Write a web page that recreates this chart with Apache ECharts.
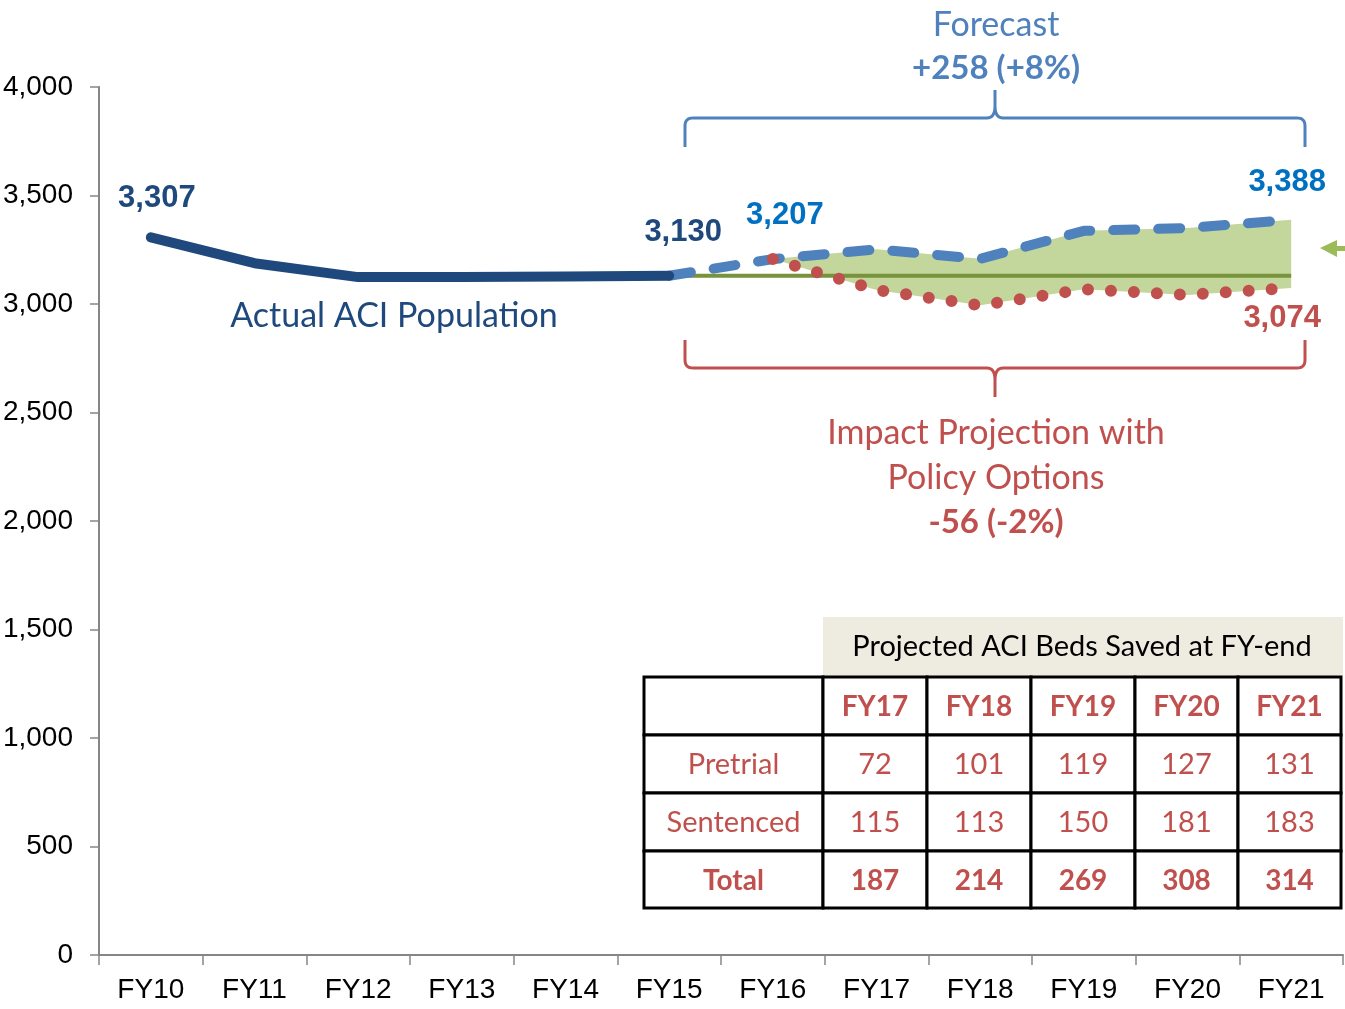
<!DOCTYPE html>
<html>
<head>
<meta charset="utf-8">
<title>ACI Population Forecast</title>
<script src="https://cdn.jsdelivr.net/npm/echarts@6/dist/echarts.min.js"></script>
<style>
  html, body { margin: 0; padding: 0; background: #fff; }
  #chart { width: 1345px; height: 1009px; }
</style>
</head>
<body>
<div id="chart"></div>
<script>
// fiscal years on the x axis
var years = ['FY10', 'FY11', 'FY12', 'FY13', 'FY14', 'FY15', 'FY16', 'FY17', 'FY18', 'FY19', 'FY20', 'FY21']
// FY10 - FY15
var actual = [3307, 3188, 3124, 3125, 3127, 3130]
// FY15 - FY21
var forecast = [3130, 3207, 3252, 3208, 3337, 3350, 3388]
// FY16 - FY21
var policy = [3207, 3065, 2994, 3068, 3042, 3074]
var baseline = 3130

// table: beds saved
var tableYears = ['FY17', 'FY18', 'FY19', 'FY20', 'FY21']
var tableRows = ['Pretrial', 'Sentenced', 'Total']
var pretrial = [72, 101, 119, 127, 131]
var sentenced = [115, 113, 150, 181, 183]
var total = [187, 214, 269, 308, 314]

var fmt = function (v) { return Number(v).toLocaleString('en-US') }

function pad(start, arr) {
  return years.map(function (_, i) {
    var k = i - start
    return (k >= 0 && k < arr.length) ? arr[k] : '-'
  })
}

var numFont = { fontFamily: 'Liberation Sans', fontWeight: 'bold', fontSize: 31 }
var calibri = 'Lato'

function withLabel(data, idx, opts) {
  data[idx] = { value: data[idx], label: Object.assign({ show: true, formatter: function (p) { return fmt(p.value) } }, numFont, opts) }
}

var actualData = pad(0, actual)
withLabel(actualData, 0, { position: 'top', distance: 0, offset: [6, -23], color: '#1f497d' })
withLabel(actualData, 5, { position: 'top', distance: 0, offset: [14, -28], color: '#1f497d' })

var forecastData = pad(5, forecast)
withLabel(forecastData, 6, { position: 'top', distance: 0, offset: [12, -28], color: '#0070c0' })
withLabel(forecastData, 11, { position: 'top', distance: 0, offset: [-4, -22], color: '#0070c0' })

var policyData = pad(6, policy)
withLabel(policyData, 11, { position: 'bottom', distance: 0, offset: [-9, 15], color: '#c0504d' })

var bandBase = pad(6, policy)
var bandDiff = pad(6, policy.map(function (v, i) { return forecast[i + 1] - v }))
var baseData = pad(5, forecast.map(function () { return baseline }))

// curly brace drawn as a polyline
function brace(x0, x1, yEdge, yBar, yTip) {
  var pts = []
  var r = 8
  var dir = yTip > yBar ? 1 : -1
  var mid = (x0 + x1) / 2
  function quad(p0, p1, p2) {
    for (var t = 0; t <= 1.0001; t += 0.125) {
      var a = (1 - t) * (1 - t), b = 2 * (1 - t) * t, c = t * t
      pts.push([a * p0[0] + b * p1[0] + c * p2[0], a * p0[1] + b * p1[1] + c * p2[1]])
    }
  }
  pts.push([x0, yEdge])
  quad([x0, yBar - dir * r], [x0, yBar], [x0 + r, yBar])
  quad([mid - r, yBar], [mid, yBar], [mid, yBar + dir * 12])
  pts.push([mid, yTip])
  quad([mid, yBar + dir * 12], [mid, yBar], [mid + r, yBar])
  quad([x1 - r, yBar], [x1, yBar], [x1, yBar - dir * r])
  pts.push([x1, yEdge])
  return pts
}

// table graphics
var tX = [644, 823, 927, 1031, 1135, 1238, 1341]
var tY = [677, 735, 793, 851, 908]
var tableGfx = []
tableGfx.push({
  type: 'rect', shape: { x: 823, y: 617, width: 520, height: 59 },
  style: { fill: '#eeece1' }
})
tableGfx.push({
  type: 'text', x: 1082, y: 647,
  style: { text: 'Projected ACI Beds Saved at FY-end', fill: '#000', font: '29px ' + calibri, align: 'center', verticalAlign: 'middle' }
})
var rowsVals = [pretrial, sentenced, total]
for (var r = 0; r < 4; r++) {
  for (var c = 0; c < 6; c++) {
    tableGfx.push({
      type: 'rect',
      shape: { x: tX[c], y: tY[r], width: tX[c + 1] - tX[c], height: tY[r + 1] - tY[r] },
      style: { fill: '#fff', stroke: '#000', lineWidth: 3 }
    })
    var txt = ''
    var bold = false
    if (r === 0 && c > 0) { txt = tableYears[c - 1]; bold = true }
    else if (r > 0 && c === 0) { txt = tableRows[r - 1]; bold = r === 3 }
    else if (r > 0) { txt = String(rowsVals[r - 1][c - 1]); bold = r === 3 }
    if (txt) {
      tableGfx.push({
        type: 'text', z: 110,
        x: (tX[c] + tX[c + 1]) / 2, y: (tY[r] + tY[r + 1]) / 2 + 1,
        style: { text: txt, fill: '#c0504d', font: (bold ? 'bold 28px ' : '29px ') + calibri, align: 'center', verticalAlign: 'middle' }
      })
    }
  }
}

var annoGfx = [
  { type: 'text', x: 996, y: 25, style: { text: 'Forecast', fill: '#4f81bd', font: '34px ' + calibri, align: 'center', verticalAlign: 'middle' } },
  { type: 'text', x: 996, y: 68, style: { text: '+258 (+8%)', fill: '#4f81bd', font: 'bold 33px ' + calibri, align: 'center', verticalAlign: 'middle' } },
  { type: 'polyline', shape: { points: brace(685, 1305, 147, 118, 90) }, style: { fill: null, stroke: '#4f81bd', lineWidth: 3 } },
  { type: 'polyline', shape: { points: brace(685, 1305, 340, 368, 397) }, style: { fill: null, stroke: '#c0504d', lineWidth: 3 } },
  { type: 'text', x: 996, y: 433, style: { text: 'Impact Projection with', fill: '#c0504d', font: '34px ' + calibri, align: 'center', verticalAlign: 'middle' } },
  { type: 'text', x: 996, y: 478, style: { text: 'Policy Options', fill: '#c0504d', font: '34px ' + calibri, align: 'center', verticalAlign: 'middle' } },
  { type: 'text', x: 996, y: 522, style: { text: '-56 (-2%)', fill: '#c0504d', font: 'bold 33px ' + calibri, align: 'center', verticalAlign: 'middle' } },
  { type: 'text', x: 394, y: 316, style: { text: 'Actual ACI Population', fill: '#1f497d', font: '34px ' + calibri, align: 'center', verticalAlign: 'middle' } },
  { type: 'polygon', shape: { points: [[1320, 248], [1337, 240], [1337, 257]] }, style: { fill: '#9bbb59' } },
  { type: 'rect', shape: { x: 1336, y: 246, width: 10, height: 5 }, style: { fill: '#9bbb59' } }
]

var chart = echarts.init(document.getElementById('chart'))
var lineBase = { type: 'line', animation: false, silent: true, emphasis: { disabled: true }, connectNulls: false }

var option = {
  backgroundColor: '#fff',
  grid: { left: 99, right: 2, top: 87, bottom: 54, outerBoundsMode: 'none' },
  xAxis: {
    type: 'category',
    data: years,
    boundaryGap: true,
    axisLine: { lineStyle: { color: '#868686', width: 2 } },
    axisTick: { show: true, interval: 0, length: 10, lineStyle: { color: '#868686', width: 1.5 } },
    axisLabel: { color: '#000', fontFamily: 'Liberation Sans', fontSize: 28, margin: 21, interval: 0 }
  },
  yAxis: {
    type: 'value',
    min: 0, max: 4000, interval: 500,
    splitLine: { show: false },
    axisLine: { show: true, lineStyle: { color: '#868686', width: 2 } },
    axisTick: { show: true, length: 9, lineStyle: { color: '#868686', width: 1.5 } },
    axisLabel: { color: '#000', fontFamily: 'Liberation Sans', fontSize: 28, margin: 26, formatter: fmt }
  },
  series: [
    Object.assign({}, lineBase, {
      name: 'band base', data: bandBase, stack: 'band', symbol: 'none',
      lineStyle: { opacity: 0 }
    }),
    Object.assign({}, lineBase, {
      name: 'band', data: bandDiff, stack: 'band', symbol: 'none',
      lineStyle: { opacity: 0 },
      areaStyle: { color: '#c3d69b', opacity: 1 }
    }),
    Object.assign({}, lineBase, {
      name: 'Baseline', data: baseData, symbol: 'none',
      lineStyle: { color: '#77933c', width: 4 }
    }),
    Object.assign({}, lineBase, {
      name: 'Forecast', data: forecastData, symbol: 'circle', symbolSize: 0, showSymbol: true,
      itemStyle: { color: '#4f81bd' },
      lineStyle: { color: '#4f81bd', width: 10, type: [22, 23], cap: 'round', join: 'round' }
    }),
    Object.assign({}, lineBase, {
      name: 'Policy', data: policyData, symbol: 'circle', symbolSize: 0, showSymbol: true,
      itemStyle: { color: '#c0504d' },
      lineStyle: { color: '#c0504d', width: 12, type: [0, 23], cap: 'round', join: 'round' }
    }),
    Object.assign({}, lineBase, {
      name: 'Actual', data: actualData, symbol: 'circle', symbolSize: 0, showSymbol: true,
      itemStyle: { color: '#1f497d' },
      lineStyle: { color: '#1f497d', width: 10, cap: 'round', join: 'round' }
    })
  ],
  graphic: annoGfx.concat(tableGfx)
}
chart.setOption(option)
</script>
</body>
</html>
